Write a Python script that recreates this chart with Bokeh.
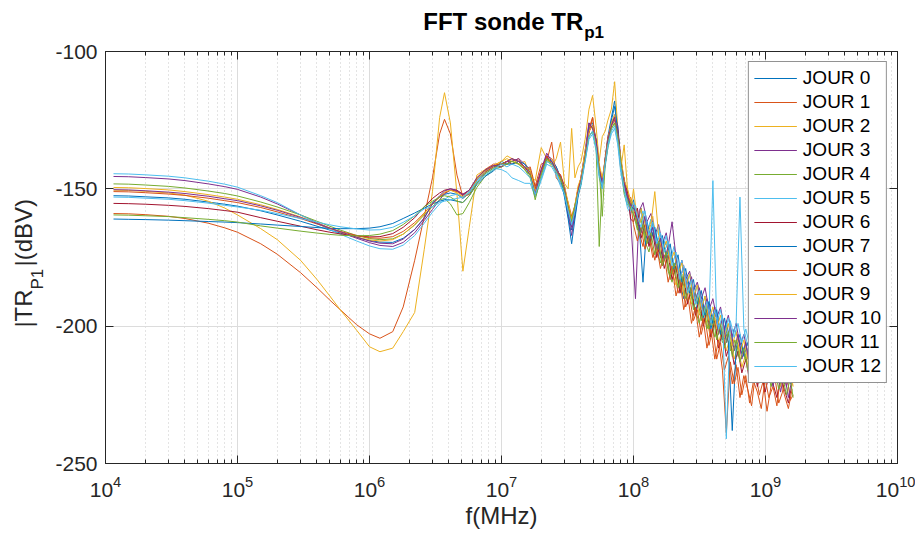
import math
from bokeh.plotting import figure
from bokeh.layouts import column, row
from bokeh.models import (Range1d, LinearAxis, Label, Legend, LegendItem, FixedTicker)
from bokeh.embed import file_html
from bokeh.resources import INLINE

# ---------------- data ----------------
F_LO = [1.15e4, 1.5e4, 2e4, 3e4, 4e4, 6e4, 8e4, 1e5, 1.5e5, 2e5, 3e5, 4e5, 5e5, 6e5, 8e5,
        1e6, 1.2e6, 1.5e6, 1.8e6, 2.2e6, 2.6e6, 3e6, 3.4e6, 3.7e6, 4.1e6, 4.6e6, 5.1e6,
        5.7e6, 6.5e6, 7.5e6, 8.7e6]
F_MID = [1.0e7, 1.1e7, 1.2e7, 1.35e7, 1.5e7, 1.65e7, 1.8e7, 2.0e7, 2.2e7, 2.4e7, 2.6e7,
         2.8e7, 3.0e7, 3.2e7, 3.4e7, 3.6e7, 3.8e7, 4.0e7, 4.3e7, 4.6e7, 4.9e7, 5.2e7,
         5.5e7, 5.8e7, 6.1e7, 6.4e7, 6.8e7, 7.2e7, 7.6e7, 8.0e7, 8.5e7, 9.0e7, 9.5e7]
F_HI_A = [1.00e8, 1.07e8, 1.14e8, 1.22e8, 1.31e8, 1.40e8, 1.50e8, 1.60e8, 1.71e8, 1.83e8,
          1.96e8, 2.10e8, 2.25e8, 2.40e8, 2.57e8, 2.75e8, 2.94e8, 3.15e8, 3.37e8, 3.60e8,
          3.86e8, 4.13e8, 4.41e8, 4.72e8, 5.05e8, 5.41e8, 5.79e8, 6.19e8, 6.62e8, 7.09e8,
          7.58e8, 8.11e8, 8.68e8, 9.29e8, 9.94e8, 1.06e9, 1.14e9, 1.22e9, 1.30e9, 1.39e9,
          1.49e9, 1.59e9]
F_HI_B = [1.035e8, 1.105e8, 1.18e8, 1.265e8, 1.355e8, 1.45e8, 1.55e8, 1.655e8, 1.77e8, 1.895e8,
          2.03e8, 2.175e8, 2.325e8, 2.485e8, 2.66e8, 2.845e8, 3.045e8, 3.26e8, 3.485e8, 3.73e8,
          3.995e8, 4.27e8, 4.565e8, 4.885e8, 5.23e8, 5.60e8, 5.99e8, 6.405e8, 6.855e8, 7.335e8,
          7.845e8, 8.395e8, 8.985e8, 9.615e8, 1.027e9, 1.10e9, 1.18e9, 1.26e9, 1.345e9, 1.44e9,
          1.54e9, 1.62e9]
FREQ_A = F_LO + F_MID + F_HI_A
FREQ_B = F_LO + F_MID + F_HI_B

JOUR_0 = ([-152.5, -152.6, -152.9, -153.3, -153.8, -154.8, -155.6, -156.3, -158.0, -159.5, -161.8, -163.6, -165.0, -166.1, -167.7, -168.8, -169.4, -169.5, -168.0, -164.8, -160.8, -155.0, -153.0, -152.0, -151.5, -152.0, -153.5, -151.5, -147.0, -144.0, -142.0]
          + [-141, -140, -139, -141, -142, -145, -150, -145, -139, -140, -144, -147, -152, -159, -165, -160, -152, -147, -137, -127, -126, -132, -144, -149, -139, -131, -124, -118, -128, -141, -150, -153, -157]
          + [-154, -163, -157, -166, -170, -162, -168, -175, -169, -172, -181, -176, -184, -190, -183, -188, -195, -189, -197, -192, -201, -195, -199, -205, -198, -207, -201, -204, -210, -206, -213, -205, -211, -216, -208, -212, -219, -210, -215, -221, -212, -217])
JOUR_1 = ([-159, -159.1, -159.4, -160, -160.8, -162.5, -164.2, -165.8, -170, -173.8, -180.5, -186, -190.5, -194, -199.5, -202.8, -204.4, -202, -193, -176, -160, -146, -130, -124.7, -130, -145, -153, -152, -148, -144, -142]
          + [-142, -141, -140, -139, -143, -142, -149, -141, -140, -133, -146, -148, -151, -155, -160, -156, -150, -146, -139, -128, -124, -134, -142, -147, -141, -134, -126, -124, -131, -143, -146, -155, -153]
          + [-160, -166, -171, -163, -169, -176, -170, -178, -174, -183, -179, -188, -184, -193, -189, -198, -194, -203, -197, -207, -201, -212, -206, -216, -211, -221, -214, -226, -218, -223, -229, -217, -225, -220, -231, -222, -219, -228, -224, -216, -227, -225])
JOUR_2 = ([-150.5, -150.6, -150.9, -151.5, -152.3, -154.5, -157, -159.5, -164.5, -168.5, -176, -183, -189, -194, -201.5, -207.5, -209.3, -208, -202, -195, -172, -151, -124, -115, -126, -152, -180, -164, -145, -143, -141.5]
          + [-140, -138, -139, -141, -140, -145, -147, -135, -139, -142, -139, -133, -148, -150, -128, -146, -142, -140, -132, -121, -116, -127, -140, -131, -129, -125, -121, -111, -128, -143, -134, -150, -158]
          + [-150, -162, -157, -168, -164, -160, -171, -167, -176, -172, -180, -185, -178, -189, -186, -192, -188, -196, -193, -199, -204, -197, -206, -201, -209, -204, -212, -207, -215, -210, -218, -213, -209, -217, -214, -220, -213, -218, -222, -215, -219, -221])
JOUR_3 = ([-145.5, -145.6, -145.9, -146.4, -147.0, -148.2, -149.2, -150.2, -153.0, -155.5, -159.5, -162.3, -164.3, -165.8, -168.0, -169.6, -170.6, -171.0, -169.5, -166.0, -161.5, -157.5, -154.0, -151.8, -150.5, -150.8, -152.0, -150.5, -146.5, -143.5, -141.5]
          + [-141, -140, -140, -139, -141, -143, -152, -144, -138, -139, -142, -146, -151, -160, -167, -159, -152, -146, -136, -126, -128, -133, -145, -150, -140, -132, -127, -123, -127, -139, -149, -151, -160]
          + [-190, -158, -155, -162, -159, -167, -163, -170, -166, -174, -178, -181, -176, -183, -180, -187, -184, -190, -186, -194, -190, -197, -193, -201, -196, -204, -199, -207, -203, -210, -206, -213, -208, -215, -211, -217, -213, -219, -215, -222, -217, -220])
JOUR_4 = ([-148.2, -148.3, -148.6, -149.1, -149.7, -150.8, -151.7, -152.6, -154.8, -156.6, -159.5, -161.8, -163.6, -165.0, -167.0, -168.1, -168.5, -168.2, -166.5, -163.2, -159.5, -156.5, -154.0, -153.5, -155.5, -159.5, -159.0, -155.0, -149.5, -145.5, -143.0]
          + [-142, -141, -140, -141, -143, -146, -153, -146, -140, -141, -144, -147, -150, -156, -161, -157, -151, -148, -139, -131, -129, -134, -171, -147, -141, -135, -128, -126, -131, -141, -152, -156, -154]
          + [-159, -165, -161, -169, -173, -166, -172, -177, -171, -180, -184, -178, -187, -183, -191, -188, -194, -199, -192, -201, -197, -204, -200, -206, -203, -209, -205, -211, -207, -213, -209, -206, -214, -210, -216, -212, -209, -217, -213, -219, -215, -218])
JOUR_5 = ([-144.5, -144.6, -144.9, -145.4, -146.0, -147.2, -148.3, -149.4, -152.5, -155.0, -159.5, -162.5, -164.8, -166.5, -169.0, -170.8, -171.8, -172.0, -170.5, -167.0, -162.5, -158.5, -155.5, -153.8, -152.5, -152.0, -153.0, -151.5, -147.5, -144.5, -142.5]
          + [-143, -144, -146, -147, -148, -148, -153, -147, -141, -142, -145, -149, -152, -158, -163, -158, -152, -149, -140, -132, -130, -136, -146, -150, -142, -135, -130, -128, -134, -144, -151, -157, -159]
          + [-156, -163, -158, -166, -161, -169, -164, -172, -167, -176, -171, -181, -176, -186, -181, -190, -185, -194, -189, -197, -147, -199, -194, -203, -197, -205, -199, -153, -201, -207, -202, -208, -203, -209, -204, -210, -205, -211, -206, -212, -207, -213])
JOUR_6 = ([-155.3, -155.4, -155.6, -156.0, -156.4, -157.2, -157.9, -158.5, -160.5, -161.8, -163.6, -164.9, -165.8, -166.4, -167.1, -167.5, -167.4, -166.3, -164.0, -160.5, -156.5, -153.5, -151.5, -150.5, -150.0, -150.5, -152.0, -150.5, -146.5, -143.5, -141.5]
          + [-141, -140, -141, -140, -142, -143, -150, -143, -138, -141, -143, -145, -149, -156, -161, -157, -150, -146, -137, -129, -127, -132, -142, -148, -139, -132, -126, -124, -129, -139, -147, -151, -161]
          + [-162, -157, -168, -163, -171, -166, -175, -170, -179, -174, -183, -178, -188, -182, -192, -186, -196, -190, -200, -194, -204, -198, -208, -202, -211, -206, -214, -209, -217, -212, -220, -214, -222, -216, -224, -218, -221, -226, -219, -223, -228, -221])
JOUR_7 = ([-161.0, -161.1, -161.2, -161.4, -161.6, -161.9, -162.1, -162.3, -162.8, -163.2, -163.7, -164.1, -164.4, -164.5, -164.5, -164.3, -163.8, -162.6, -160.8, -158.8, -157.0, -155.5, -154.5, -154.0, -154.0, -154.5, -155.0, -152.5, -148.5, -145.5, -143.5]
          + [-140, -141, -141, -140, -141, -144, -151, -144, -139, -140, -142, -146, -153, -161, -170, -161, -153, -148, -138, -128, -127, -133, -144, -149, -140, -133, -125, -120, -129, -140, -148, -153, -156]
          + [-158, -164, -184, -162, -168, -164, -171, -167, -175, -170, -179, -174, -184, -179, -188, -183, -192, -187, -196, -191, -199, -194, -203, -197, -206, -238, -208, -203, -211, -206, -213, -208, -215, -210, -217, -212, -218, -214, -220, -215, -221, -217])
JOUR_8 = ([-151.0, -151.1, -151.4, -151.9, -152.4, -153.4, -154.3, -155.0, -156.8, -158.4, -160.8, -162.8, -164.4, -165.5, -167.0, -167.8, -168.0, -167.4, -165.5, -162.3, -158.8, -155.5, -153.0, -151.5, -150.5, -151.0, -152.5, -150.5, -146.0, -143.0, -141.0]
          + [-141, -140, -139, -140, -142, -144, -150, -144, -138, -141, -143, -145, -150, -157, -162, -156, -150, -147, -138, -130, -124, -133, -143, -147, -139, -131, -127, -125, -130, -140, -149, -152, -155]
          + [-163, -169, -164, -172, -167, -175, -171, -179, -174, -184, -178, -189, -183, -194, -188, -199, -193, -204, -197, -208, -201, -212, -205, -216, -239, -213, -221, -215, -225, -218, -228, -220, -224, -230, -219, -226, -222, -229, -218, -225, -230, -223])
JOUR_9 = ([-149.5, -149.6, -149.9, -150.4, -151.0, -152.1, -153.0, -153.8, -155.8, -157.5, -160.2, -162.5, -164.3, -165.7, -167.6, -168.6, -169.0, -168.5, -166.5, -163.0, -159.0, -155.5, -152.8, -151.2, -150.5, -151.5, -153.0, -151.0, -146.5, -143.5, -141.5]
          + [-140, -139, -140, -141, -142, -143, -151, -145, -140, -139, -143, -147, -149, -155, -161, -156, -149, -146, -136, -129, -127, -134, -141, -146, -140, -132, -126, -123, -132, -138, -147, -150, -154]
          + [-157, -163, -159, -167, -163, -151, -167, -173, -169, -177, -173, -181, -177, -186, -181, -190, -185, -194, -189, -198, -193, -201, -196, -204, -199, -207, -202, -210, -205, -212, -207, -214, -209, -216, -211, -218, -213, -220, -215, -221, -216, -222])
JOUR_10 = ([-150.3, -150.4, -150.7, -151.2, -151.7, -152.7, -153.6, -154.3, -156.2, -157.8, -160.4, -162.6, -164.3, -165.6, -167.6, -169.0, -169.8, -170.0, -168.3, -164.8, -160.5, -155.5, -152.5, -150.8, -150.0, -150.6, -152.2, -150.5, -146.0, -143.2, -141.5]
           + [-142, -140, -139, -140, -142, -145, -152, -143, -137, -140, -143, -146, -150, -158, -164, -158, -151, -147, -139, -126, -128, -132, -143, -148, -141, -132, -127, -124, -130, -141, -148, -153, -156]
           + [-156, -161, -166, -160, -169, -164, -172, -168, -176, -171, -162, -175, -183, -178, -187, -182, -191, -186, -195, -190, -199, -193, -203, -197, -206, -200, -209, -203, -212, -206, -215, -209, -218, -211, -220, -213, -222, -215, -224, -217, -226, -219])
JOUR_11 = ([-159.5, -159.6, -159.8, -160.1, -160.5, -161.1, -161.6, -162.1, -163.5, -164.3, -165.4, -166.1, -166.6, -166.9, -167.1, -167.0, -166.5, -165.2, -163.0, -159.8, -156.5, -154.5, -153.0, -152.5, -153.0, -154.5, -155.0, -152.5, -148.0, -144.5, -142.5]
           + [-141, -141, -140, -141, -143, -145, -154, -145, -139, -141, -144, -146, -151, -157, -162, -156, -152, -148, -139, -131, -129, -135, -143, -160, -141, -134, -128, -126, -131, -140, -151, -154, -157]
           + [-161, -167, -163, -170, -166, -174, -169, -178, -173, -182, -177, -186, -181, -190, -185, -194, -189, -198, -193, -201, -196, -205, -199, -208, -202, -211, -205, -213, -208, -216, -210, -218, -212, -220, -214, -222, -216, -223, -218, -225, -219, -226])
JOUR_12 = ([-153.0, -153.1, -153.4, -153.8, -154.3, -155.2, -156.0, -156.6, -157.8, -159.0, -160.8, -162.1, -163.1, -163.8, -164.6, -165.0, -164.9, -164.0, -162.2, -159.8, -157.3, -156.5, -155.0, -154.5, -154.0, -153.5, -153.0, -151.0, -147.5, -145.0, -143.0]
           + [-141, -142, -141, -142, -144, -146, -152, -146, -140, -141, -144, -148, -152, -158, -163, -158, -152, -148, -140, -131, -129, -135, -145, -149, -141, -134, -129, -127, -133, -142, -150, -155, -158]
           + [-155, -160, -164, -158, -167, -162, -170, -166, -173, -169, -178, -173, -183, -178, -188, -183, -192, -187, -196, -191, -199, -194, -201, -196, -241, -198, -204, -199, -206, -201, -207, -202, -208, -203, -209, -204, -210, -205, -211, -206, -212, -207])

SERIES = [JOUR_0, JOUR_1, JOUR_2, JOUR_3, JOUR_4, JOUR_5, JOUR_6,
          JOUR_7, JOUR_8, JOUR_9, JOUR_10, JOUR_11, JOUR_12]
GRIDS = [FREQ_A, FREQ_B, FREQ_A, FREQ_B, FREQ_A, FREQ_B, FREQ_A,
         FREQ_B, FREQ_A, FREQ_B, FREQ_A, FREQ_B, FREQ_A]
NAMES = ["JOUR %d" % i for i in range(13)]
COLORS = ["#0072BD", "#D95319", "#EDB120", "#7E2F8E", "#77AC30", "#4DBEEE", "#A2142F",
          "#0072BD", "#D95319", "#EDB120", "#7E2F8E", "#77AC30", "#4DBEEE"]

X_TICKS = [1e4, 1e5, 1e6, 1e7, 1e8, 1e9, 1e10]
Y_TICKS = [-250, -200, -150, -100]
Y_TICK_LABELS = ["-250", "-200", "-150", "-100"]

for s, g in zip(SERIES, GRIDS):
    assert len(s) == len(g), len(s)

FONT = "Liberation Sans"
AX = "#262626"

# ---------------- page geometry ----------------
TOP_H = 42      # strip holding the title
LEFT_W = 48     # strip holding the y label
MAIN_W = 867
MAIN_H = 492
PAGE_H = TOP_H + MAIN_H


def text_strip(w, h):
    f = figure(width=w, height=h, x_range=Range1d(0, w), y_range=Range1d(0, h),
               output_backend="svg", toolbar_location=None,
               x_axis_location=None, y_axis_location=None,
               min_border=0, min_border_left=0, min_border_right=0,
               min_border_top=0, min_border_bottom=0)
    f.grid.visible = False
    f.outline_line_color = None
    f.background_fill_color = "white"
    f.border_fill_color = "white"
    return f


def lab(fig, x, y, text, size, bold=False, color=AX, align="center", angle=0.0):
    fig.add_layout(Label(x=x, y=y, text=text, angle=angle, text_font=FONT,
                         text_font_style="bold" if bold else "normal",
                         text_font_size=size, text_color=color,
                         text_align=align, text_baseline="middle"))


# title strip (strip data units = pixels, y upwards); spans page x 48..915
top = text_strip(MAIN_W, TOP_H)
lab(top, 571 - LEFT_W, TOP_H - 20.7, "FFT sonde TR", "24px", bold=True, color="black", align="right")
lab(top, 572 - LEFT_W, TOP_H - 32.3, "p1", "17px", bold=True, color="black", align="left")

# y-label strip, full page height (rotated text, reads bottom to top)
left = text_strip(LEFT_W, PAGE_H)
ang = math.pi / 2
lab(left, 22.7, PAGE_H - 308.0, "|TR", "24px", angle=ang)
lab(left, 36.5, PAGE_H - 278.7, "P1", "17px", angle=ang)
lab(left, 22.7, PAGE_H - 232.3, "|(dBV)", "24px", angle=ang)

# main plot: frame at page x 105..897, y 51..463
p = figure(width=MAIN_W, height=MAIN_H, x_axis_type="log",
           x_range=Range1d(1e4, 1e10), y_range=Range1d(-250, -100),
           output_backend="svg", toolbar_location=None,
           min_border_left=105 - LEFT_W, min_border_right=MAIN_W - (897 - LEFT_W),
           min_border_top=51 - TOP_H, min_border_bottom=MAIN_H - (463 - TOP_H))
p.background_fill_color = "white"
p.border_fill_color = "white"
p.outline_line_color = AX

minor_x = [m * 10 ** e for e in range(4, 10) for m in range(2, 10)]
xt = FixedTicker(ticks=X_TICKS, minor_ticks=minor_x)
yt = FixedTicker(ticks=Y_TICKS, minor_ticks=[])


def style_axis(ax, size="21px"):
    ax.axis_line_color = AX
    ax.major_tick_line_color = AX
    ax.minor_tick_line_color = AX
    ax.major_tick_in = 8
    ax.major_tick_out = 0
    ax.minor_tick_in = 4
    ax.minor_tick_out = 0
    ax.major_label_text_font = FONT
    ax.major_label_text_color = AX
    ax.major_label_text_font_size = size


p.xaxis[0].ticker = xt
p.yaxis[0].ticker = yt
style_axis(p.xaxis[0])
style_axis(p.yaxis[0])
p.yaxis[0].major_label_overrides = dict(zip(Y_TICKS, Y_TICK_LABELS))
p.xaxis[0].major_label_standoff = 12
p.yaxis[0].major_label_standoff = 8
p.yaxis[0].minor_tick_line_color = None
p.xaxis[0].axis_label = "f(MHz)"
p.xaxis[0].axis_label_text_font = FONT
p.xaxis[0].axis_label_text_font_size = "24px"
p.xaxis[0].axis_label_text_font_style = "normal"
p.xaxis[0].axis_label_text_color = AX
p.xaxis[0].axis_label_standoff = 2

# mirrored box ticks (no labels) on top and right
top_ax = LinearAxis(ticker=xt, major_label_overrides={t: "" for t in X_TICKS})
style_axis(top_ax, "1px")
top_ax.major_label_standoff = 0
p.add_layout(top_ax, "above")
right_ax = LinearAxis(ticker=yt, major_label_overrides={t: "" for t in Y_TICKS})
style_axis(right_ax, "1px")
right_ax.major_label_standoff = 0
right_ax.minor_tick_line_color = None
p.add_layout(right_ax, "right")

p.xgrid.ticker = xt
p.xgrid.grid_line_color = "#dcdcdc"
p.xgrid.minor_grid_line_color = "#c8c8c8"
p.xgrid.minor_grid_line_dash = "1 3"
p.ygrid.ticker = FixedTicker(ticks=[-200, -150])
p.ygrid.grid_line_color = "#dcdcdc"

items = []
for name, col, vals, fr in zip(NAMES, COLORS, SERIES, GRIDS):
    r = p.line(fr, vals, line_color=col, line_width=1)
    items.append(LegendItem(label=name, renderers=[r]))

legend = Legend(items=items, location="top_right")
legend.margin = 10
legend.padding = 5
legend.spacing = 2
legend.glyph_width = 43
legend.glyph_height = 20
legend.label_height = 20
legend.label_standoff = 6
legend.label_text_font = FONT
legend.label_text_font_size = "19px"
legend.label_text_color = "black"
legend.border_line_color = AX
legend.border_line_width = 1
legend.background_fill_alpha = 1.0
p.add_layout(legend)

layout = row(left, column(top, p, spacing=0), spacing=0)
open("out.html", "w").write(file_html(layout, INLINE))
